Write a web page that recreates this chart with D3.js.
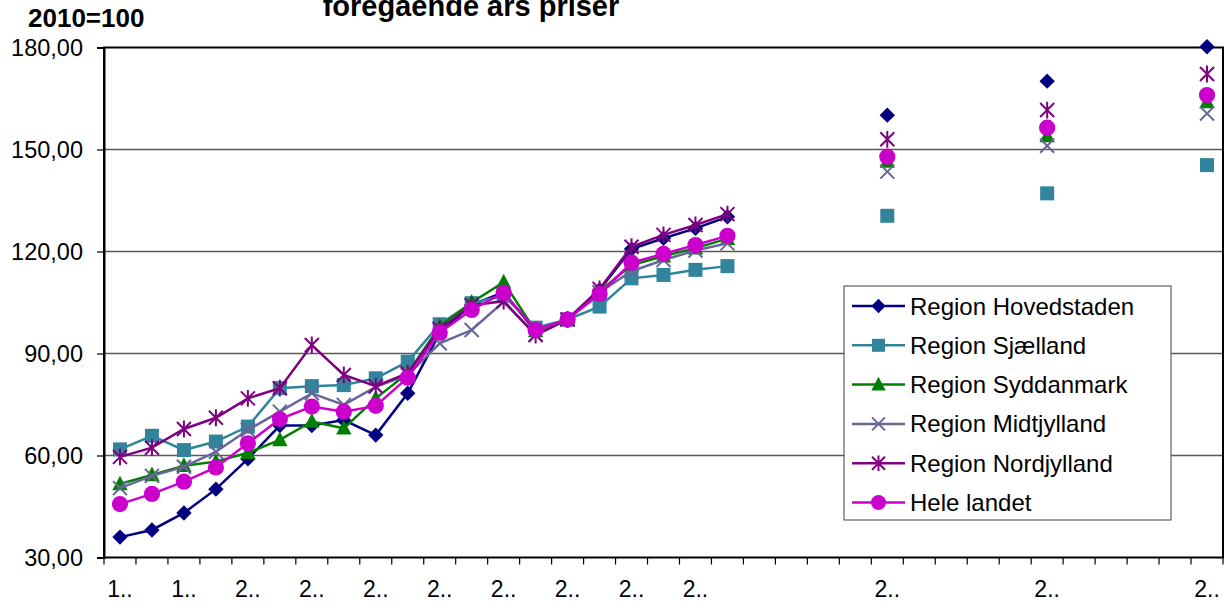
<!DOCTYPE html>
<html>
<head>
<meta charset="utf-8">
<script src="https://cdn.jsdelivr.net/npm/d3@7"></script>
<style>
  html, body { margin: 0; padding: 0; background: #fff; }
  svg { display: block; font-family: "Liberation Sans", Arial, sans-serif; }
</style>
</head>
<body>
<svg id="chart" width="1230" height="603"></svg>
<script>
// ---- data ----
const years = d3.range(1996, 2031);              // 35 categories
const labeledYears = [1996, 1998, 2000, 2002, 2004, 2006, 2008, 2010, 2012, 2014, 2020, 2025, 2030];
const yTicks = [30, 60, 90, 120, 150, 180];
const seriesNames = ["Region Hovedstaden", "Region Sjælland", "Region Syddanmark", "Region Midtjylland", "Region Nordjylland", "Hele landet"];
const N = null;
// 1996..2015, then gaps, 2020, 2025, 2030
const hovedstaden = [36.0, 38.1, 43.1, 50.1, 59.0, 68.8, 68.8, 70.4, 66.0, 78.3, 96.0, 104.3, 108.0, 96.5, 100, 108.7, 120.7, 123.9, 126.8, 130.2, N, N, N, N, 160.1, N, N, N, N, 170.1, N, N, N, N, 180.2];
const sjaelland   = [61.8, 65.8, 61.6, 64.1, 68.5, 79.8, 80.4, 80.7, 82.7, 87.6, 98.6, 104.8, 107.0, 97.6, 100, 103.8, 112.1, 113.1, 114.6, 115.7, N, N, N, N, 130.5, N, N, N, N, 137.1, N, N, N, N, 145.4];
const syddanmark  = [51.6, 54.3, 57.0, 58.2, 60.8, 64.6, 70.0, 68.0, 76.8, 84.2, 98.0, 105.0, 111.0, 96.6, 100, 108.3, 116.0, 118.6, 121.0, 123.8, N, N, N, N, 146.5, N, N, N, N, 154.0, N, N, N, N, 164.0];
const midtjylland = [50.4, 54.0, 56.7, 61.1, 67.5, 72.9, 78.3, 74.9, 80.2, 83.7, 93.0, 96.9, 105.2, 95.6, 100, 108.0, 114.2, 117.5, 120.3, 122.4, N, N, N, N, 143.5, N, N, N, N, 151.1, N, N, N, N, 160.6];
const nordjylland = [59.6, 62.3, 67.8, 71.1, 76.8, 79.8, 92.5, 83.7, 80.4, 84.2, 97.2, 104.2, 105.4, 95.4, 100, 109.0, 121.4, 124.9, 127.8, 131.0, N, N, N, N, 153.0, N, N, N, N, 161.6, N, N, N, N, 172.2];
const heleLandet  = [45.7, 48.7, 52.3, 56.5, 63.6, 70.7, 74.4, 72.9, 74.6, 82.9, 96.2, 102.8, 107.9, 96.9, 100, 107.5, 116.7, 119.3, 121.9, 124.6, N, N, N, N, 147.9, N, N, N, N, 156.4, N, N, N, N, 166.0];
const seriesValues = [hovedstaden, sjaelland, syddanmark, midtjylland, nordjylland, heleLandet];
const seriesColors = ["#000080", "#31849B", "#008000", "#666699", "#800080", "#CC00CC"];
const seriesMarkers = ["diamond", "square", "triangle", "cross", "asterisk", "circle"];

// ---- layout ----
const svg = d3.select("#chart");
const L = 104, R = 1223, T = 47.5, B = 557.5;

const x = d3.scaleBand().domain(years).range([L, R]).padding(0);
const y = d3.scaleLinear().domain([30, 180]).range([B, T]);
const cx = yr => x(yr) + x.bandwidth() / 2;

// gridlines
svg.append("g").selectAll("line").data(yTicks.filter(t => t > 30 && t < 180)).join("line")
  .attr("x1", L).attr("x2", R).attr("y1", d => y(d)).attr("y2", d => y(d))
  .attr("stroke", "#595959").attr("stroke-width", 1.5);

// plot border
svg.append("rect").attr("x", L).attr("y", T).attr("width", R - L).attr("height", B - T)
  .attr("fill", "none").attr("stroke", "#000").attr("stroke-width", 2);

// y axis
const yAxis = d3.axisLeft(y).tickValues(yTicks).tickSize(7).tickPadding(14)
  .tickFormat(d => d3.format(".2f")(d).replace(".", ","));
const gy = svg.append("g").attr("transform", `translate(${L},0)`).call(yAxis);
gy.select(".domain").attr("stroke", "#000").attr("stroke-width", 2);
gy.selectAll(".tick line").attr("stroke", "#000").attr("stroke-width", 1.2);
gy.selectAll(".tick text").attr("font-size", 23.5).attr("fill", "#000")
  .attr("font-family", "'Liberation Sans', Arial, sans-serif");

// x axis: ticks at category boundaries
const boundaries = years.map(yr => x(yr)).concat([R]);
svg.append("g").selectAll("line").data(boundaries).join("line")
  .attr("x1", d => d).attr("x2", d => d).attr("y1", B).attr("y2", B + 7)
  .attr("stroke", "#000").attr("stroke-width", 1.2);
svg.append("g").selectAll("text").data(labeledYears).join("text")
  .attr("x", d => cx(d)).attr("y", 597)
  .attr("text-anchor", "middle").attr("font-size", 23).attr("fill", "#000")
  .text(d => String(d)[0] + "..");

// markers
function drawMarker(g, type, color, size) {
  const s = size;
  if (type === "diamond") {
    g.append("path").attr("d", `M0,${-s*0.55}L${s*0.55},0L0,${s*0.55}L${-s*0.55},0Z`).attr("fill", color);
  } else if (type === "square") {
    g.append("rect").attr("x", -s/2).attr("y", -s/2).attr("width", s).attr("height", s).attr("fill", color);
  } else if (type === "triangle") {
    g.append("path").attr("d", `M0,${-s*0.6}L${s*0.55},${s*0.45}L${-s*0.55},${s*0.45}Z`).attr("fill", color);
  } else if (type === "cross") {
    const h = s * 0.5;
    g.append("path").attr("d", `M${-h},${-h}L${h},${h}M${-h},${h}L${h},${-h}`).attr("stroke", color).attr("stroke-width", 2).attr("fill", "none");
  } else if (type === "asterisk") {
    const h = s * 0.5;
    g.append("path").attr("d", `M${-h},${-h}L${h},${h}M${-h},${h}L${h},${-h}M0,${-h*1.2}L0,${h*1.2}`).attr("stroke", color).attr("stroke-width", 2).attr("fill", "none");
  } else if (type === "circle") {
    g.append("circle").attr("r", s * 0.58).attr("fill", color);
  }
}

const line = d3.line().defined(d => d.v !== null).x(d => cx(d.yr)).y(d => y(d.v));

seriesValues.forEach((vals, si) => {
  const pts = vals.map((v, i) => ({ yr: years[i], v }));
  const g = svg.append("g");
  g.append("path").datum(pts).attr("d", line).attr("fill", "none")
    .attr("stroke", seriesColors[si]).attr("stroke-width", 2.5);
  pts.filter(p => p.v !== null).forEach(p => {
    const mg = g.append("g").attr("transform", `translate(${cx(p.yr)},${y(p.v)})`);
    drawMarker(mg, seriesMarkers[si], seriesColors[si], 14);
  });
});

// legend
const lg = svg.append("g");
lg.append("rect").attr("x", 844).attr("y", 286).attr("width", 327).attr("height", 234)
  .attr("fill", "#fff").attr("stroke", "#404040").attr("stroke-width", 1);
seriesNames.forEach((name, i) => {
  const yy = 306 + i * 39.3;
  lg.append("line").attr("x1", 852).attr("x2", 905).attr("y1", yy).attr("y2", yy)
    .attr("stroke", seriesColors[i]).attr("stroke-width", 2.5);
  const mg = lg.append("g").attr("transform", `translate(878.5,${yy})`);
  drawMarker(mg, seriesMarkers[i], seriesColors[i], 13);
  lg.append("text").attr("x", 910).attr("y", yy + 8.5).attr("font-size", 24).attr("fill", "#000").text(name);
});

// titles (the upper part of the title is cut by the top edge, as in the reference)
svg.append("text").attr("x", 471).attr("y", 16).attr("text-anchor", "middle")
  .attr("font-size", 29).attr("font-weight", "bold").attr("fill", "#000").text("foregående års priser");
svg.append("text").attr("x", 28).attr("y", 27).attr("font-size", 26)
  .attr("font-weight", "bold").attr("fill", "#000").text("2010=100");
</script>
</body>
</html>
